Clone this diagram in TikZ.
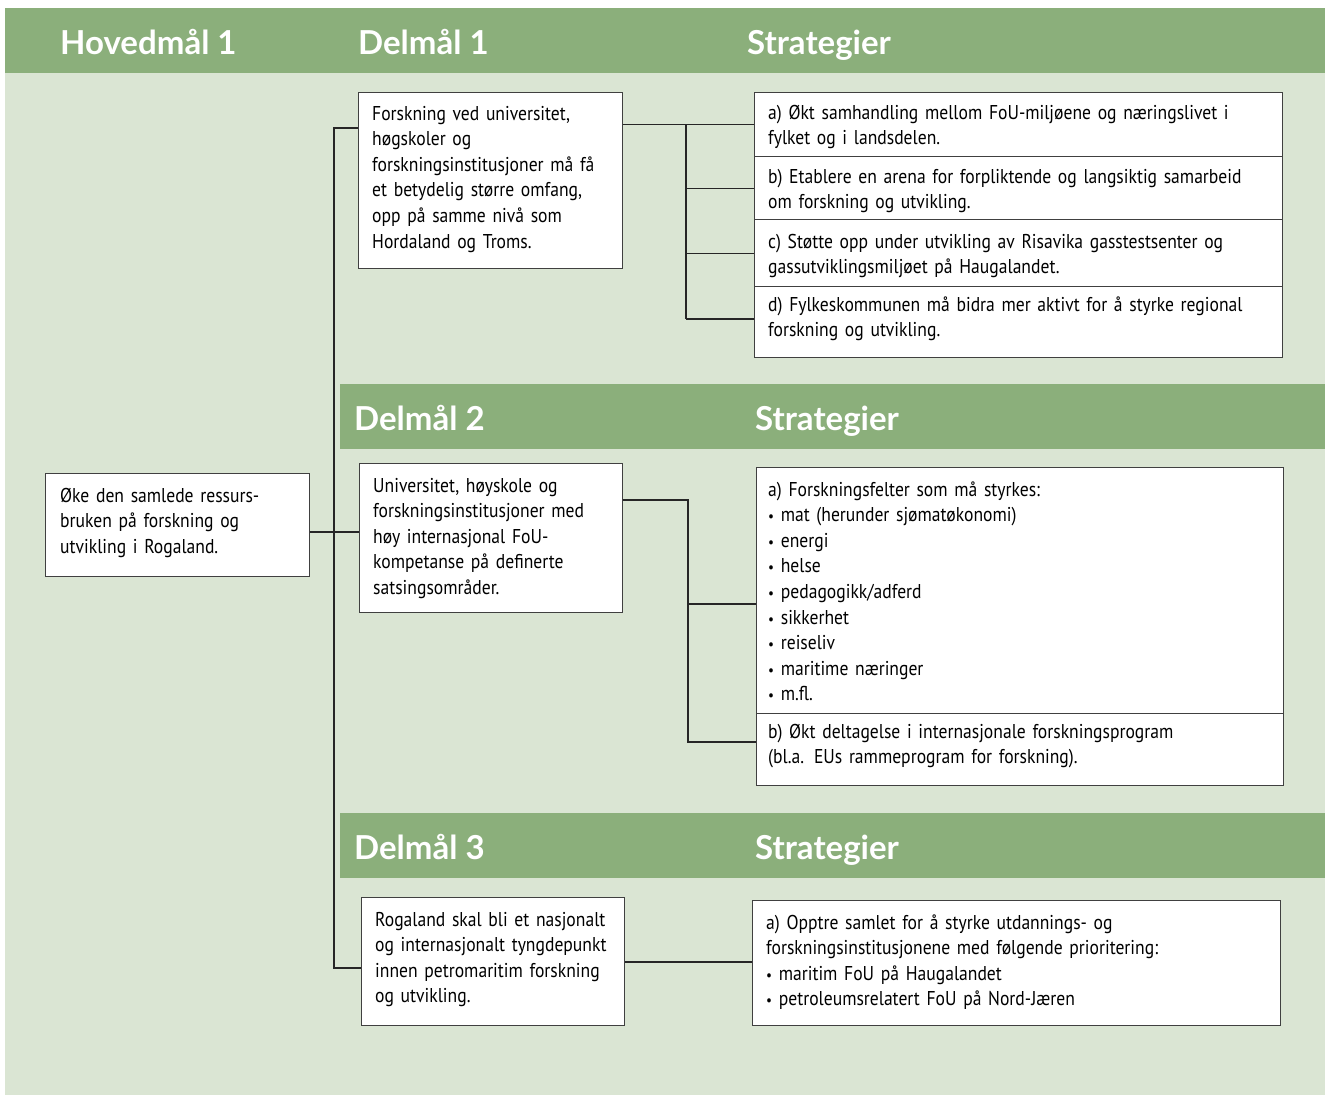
\documentclass[tikz,border=0pt]{standalone}
\usepackage{fontspec}
\setmainfont{PT Sans}[FakeStretch=0.88]
\newfontfamily\hdfont{Lato}
\definecolor{hdgreen}{RGB}{139,175,123}
\definecolor{bggreen}{RGB}{218,229,211}
\definecolor{boxline}{RGB}{64,64,64}
\newcommand\bul{{\fontsize{15}{15}\selectfont\textbullet}\ }
\begin{document}
\begin{tikzpicture}[x=1pt,y=-1pt,
 cell/.style={draw=boxline, fill=white, line width=1.3pt, inner sep=0pt, anchor=north west},
 txt/.style={anchor=base west, inner sep=0pt, align=left, text width=520pt, font=\fontsize{20}{25.6}\selectfont},
 hd/.style={anchor=base west, inner sep=0pt, text=white, font=\hdfont\bfseries\fontsize{33}{40}\selectfont},
 conn/.style={draw=black!85, line width=1.2pt}]
\useasboundingbox (0,0) rectangle (1325,1095);
\fill[bggreen] (5,8) rectangle (1325,1095);
\fill[hdgreen] (5,8) rectangle (1325,73);
\fill[hdgreen] (340,384) rectangle (1325,449);
\fill[hdgreen] (340,813) rectangle (1325,878);

% headers
\node[hd] (h0) at (60,54) {Hovedmål 1};
\node[hd] (h1) at (358,54) {Delmål 1};
\node[hd] (h1s) at (747,54) {Strategier};
\node[hd] (h2) at (354,430) {Delmål 2};
\node[hd] (h2s) at (755,430) {Strategier};
\node[hd] (h3) at (354,859) {Delmål 3};
\node[hd] (h3s) at (755,859) {Strategier};

% boxes
\node[cell, minimum width=264, minimum height=103] (main) at (45,473) {};
\node[cell, minimum width=264, minimum height=176] (d1) at (358,92) {};
\node[cell, minimum width=528, minimum height=64] (sa) at (754,92) {};
\node[cell, minimum width=528, minimum height=63] (sb) at (754,156) {};
\node[cell, minimum width=528, minimum height=67] (sc) at (754,219) {};
\node[cell, minimum width=528, minimum height=71] (sd) at (754,286) {};
\node[cell, minimum width=263, minimum height=149] (d2) at (359,463) {};
\node[cell, minimum width=527, minimum height=246] (s2a) at (756,467) {};
\node[cell, minimum width=527, minimum height=72] (s2b) at (756,713) {};
\node[cell, minimum width=263, minimum height=128] (d3) at (361,897) {};
\node[cell, minimum width=528, minimum height=125] (s3) at (752,900) {};

% texts
\node[txt] (maint) at (60,502) {Øke den samlede ressurs-\\bruken på forskning og\\utvikling i Rogaland.};
\node[txt] (d1t) at (372,120) {Forskning ved universitet,\\høgskoler og\\forskningsinstitusjoner må få\\et betydelig større omfang,\\opp på samme nivå som\\Hordaland og Troms.};
\node[txt] (sat) at (768,119) {a) Økt samhandling mellom FoU-miljøene og næringslivet i\\fylket og i landsdelen.};
\node[txt] (sbt) at (768,183) {b) Etablere en arena for forpliktende og langsiktig samarbeid\\om forskning og utvikling.};
\node[txt] (sct) at (768,248) {c) Støtte opp under utvikling av Risavika gasstestsenter og\\gassutviklingsmiljøet på Haugalandet.};
\node[txt] (sdt) at (768,311) {d) Fylkeskommunen må bidra mer aktivt for å styrke regional\\forskning og utvikling.};
\node[txt] (d2t) at (373,492) {Universitet, høyskole og\\forskningsinstitusjoner med\\høy internasjonal FoU-\\kompetanse på definerte\\satsingsområder.};
\node[txt] (s2at) at (768,496) {a) Forskningsfelter som må styrkes:\\\bul mat (herunder sjømatøkonomi)\\\bul energi\\\bul helse\\\bul pedagogikk/adferd\\\bul sikkerhet\\\bul reiseliv\\\bul maritime næringer\\\bul m.fl.};
\node[txt] (s2bt) at (768,738) {b) Økt deltagelse i internasjonale forskningsprogram\\(bl.a. EUs rammeprogram for forskning).};
\node[txt] (d3t) at (375,926) {Rogaland skal bli et nasjonalt\\og internasjonalt tyngdepunkt\\innen petromaritim forskning\\og utvikling.};
\node[txt] (s3t) at (766,929) {a) Opptre samlet for å styrke utdannings- og\\forskningsinstitusjonene med følgende prioritering:\\\bul maritim FoU på Haugalandet\\\bul petroleumsrelatert FoU på Nord-Jæren};

% connectors
\coordinate (sp1) at (334,128);
\coordinate (sp2) at (334,968);
\coordinate (m2) at (0,532);
\coordinate (j1) at (686,0);
\coordinate (j1d) at (686,319);
\coordinate (j2) at (688,500);
\coordinate (k2a) at (688,604);
\coordinate (k2b) at (688,742);
\coordinate (c3) at (0,962);
\draw[conn] (d1.west |- sp1) -- (sp1) -- (sp2) -- (d3.west |- sp2);
\draw[conn] (main.east |- m2) -- (d2.west |- m2);
\draw[conn] (d1.east |- sa.west) -- (sa.west);
\draw[conn] (j1 |- sa.west) -- (j1d);
\draw[conn] (j1 |- sb.west) -- (sb.west);
\draw[conn] (j1 |- sc.west) -- (sc.west);
\draw[conn] (j1d) -- (sd.west |- j1d);
\draw[conn] (d2.east |- j2) -- (j2) -- (k2b) -- (s2b.west |- k2b);
\draw[conn] (k2a) -- (s2a.west |- k2a);
\draw[conn] (d3.east |- c3) -- (s3.west |- c3);
\end{tikzpicture}
\end{document}
